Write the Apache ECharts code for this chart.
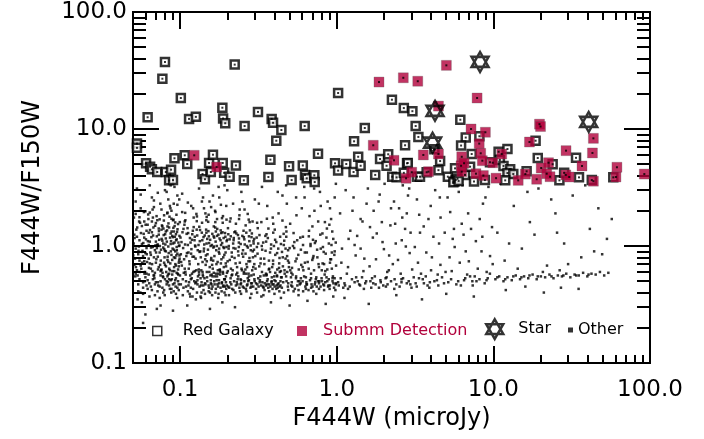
<!DOCTYPE html>
<html>
<head>
<meta charset="utf-8">
<script src="https://cdn.jsdelivr.net/npm/echarts@6/dist/echarts.min.js"></script>
<style>html,body{margin:0;padding:0;background:#fff}#c{width:704px;height:439px}</style>
</head>
<body>
<div id="c"></div>
<script>
// ---- axis ranges and ticks ----
const xRange = [0.05, 100];
const yRange = [0.1, 100];
const xMajor = [0.1, 1, 10, 100];
const xMajorLabels = ['0.1', '1.0', '10.0', '100.0'];
const yMajor = [0.1, 1, 10, 100];
const yMajorLabels = ['0.1', '1.0', '10.0', '100.0'];
const xMinor = [0.06,0.07,0.08,0.09,0.2,0.3,0.4,0.5,0.6,0.7,0.8,0.9,2,3,4,5,6,7,8,9,20,30,40,50,60,70,80,90];
const yMinor = [0.2,0.3,0.4,0.5,0.6,0.7,0.8,0.9,2,3,4,5,6,7,8,9,20,30,40,50,60,70,80,90];

// ---- series data [F444W, F444W/F150W] ----
const redGalaxy = [
[0.080,37.4],[0.077,26.9],[0.223,35.5],[0.101,18.4],[0.062,12.6],[0.114,12.2],[0.126,12.7],[0.186,15.2],[0.188,12.3],[0.194,11.2],
[0.258,10.6],[0.314,14.0],[0.384,12.2],[0.392,11.3],[0.443,9.8],[0.411,7.94],[0.624,10.6],[1.02,20.3],[1.51,10.2],[1.29,7.85],
[2.25,17.8],[2.68,15.1],[3.04,14.2],[3.19,10.6],[2.73,7.26],[3.32,8.55],
[0.053,7.5],[0.053,6.9],[0.0606,5.09],[0.0643,4.76],[0.066,4.53],[0.0714,4.29],[0.081,4.29],[0.0875,4.49],[0.085,3.64],[0.090,3.66],
[0.092,5.62],[0.107,5.96],[0.111,5.02],[0.139,4.12],[0.144,3.72],[0.153,5.12],[0.157,4.29],[0.162,6.03],[0.187,5.12],[0.191,4.22],
[0.207,3.91],[0.227,4.88],[0.255,3.64],[0.366,3.89],[0.377,5.47],[0.496,4.80],[0.515,3.66],[0.607,4.88],[0.627,4.05],[0.643,3.79],
[0.719,4.02],[0.723,3.52],[0.759,6.15],[0.975,5.09],[1.02,4.41],[1.15,5.02],[1.28,4.29],[1.37,5.79],[1.42,4.85],[1.76,4.05],
[1.89,5.54],[2.08,4.85],[2.13,6.08],[2.26,3.91],[2.41,3.86],[2.81,5.09],[3.25,3.91],
[6.15,12.0],[6.66,8.45],[8.14,8.67],[6.22,7.22],[2.84,5.12],[4.57,5.32],[4.46,4.45],[3.40,3.91],[3.75,4.27],[5.12,3.91],
[5.69,4.61],[5.75,3.66],[6.59,4.05],[7.27,6.11],[7.52,3.56],[7.10,4.76],[10.8,6.39],[12.3,6.74],[11.0,5.44],[11.6,4.83],
[12.8,4.53],[12.3,4.2],[13.4,4.12],[11.9,3.64],[16.3,4.35],[18.6,7.94],[19.2,5.65],[23.9,5.0],[26.4,3.64],[28.3,4.22],
[33.7,5.67],[35.2,3.86],[42.5,3.66],[58.3,3.86],[2.68,4.22],[5.64,3.56],[8.83,3.66],[9.51,5.2],[5.55,3.5],[5.9,3.75],
[6.0,3.6],[4.2,6.7]
];
const submm = [
[0.123,5.96],[0.171,4.73],[1.86,25.2],[2.66,27.4],[3.29,25.6],[1.71,7.26],[2.32,5.40],[3.01,4.27],[2.77,3.79],[5.01,35.0],
[7.87,18.4],[4.46,15.7],[7.20,10.0],[8.89,9.38],[8.12,7.5],[3.57,6.0],[4.46,6.11],[6.28,5.79],[6.22,4.85],[8.30,6.2],
[8.50,5.36],[11.3,6.11],[9.91,5.15],[3.85,4.32],[7.74,4.15],[8.63,4.0],[6.28,4.32],[10.4,3.80],[14.4,3.64],[16.0,4.12],
[18.9,3.72],[17.0,7.74],[19.7,11.0],[20.0,10.5],[20.2,4.64],[22.5,5.15],[21.9,4.15],[23.0,3.91],[29.1,6.53],[29.0,4.05],
[30.5,3.89],[36.8,4.83],[43.5,8.32],[42.9,6.24],[43.5,3.58],[61.5,4.71],[60.6,3.89],[92.0,4.12],[6.5,5.1]
];
const stars = [[8.22,37.4],[4.24,14.3],[4.09,7.64],[40.6,11.5]];
const other = [
[0.052,0.95],[0.055,1.12],[0.058,0.82],[0.061,1.35],[0.064,0.71],[0.067,0.98],[0.071,1.21],[0.074,0.88],[0.078,1.05],[0.083,0.76],
[0.087,1.28],[0.091,0.93],[0.095,1.14],[0.098,0.67],[0.053,0.62],[0.057,1.48],[0.06,0.54],[0.063,1.02],[0.066,1.62],[0.069,0.59],
[0.072,0.81],[0.076,1.38],[0.08,0.52],[0.084,0.99],[0.088,1.71],[0.092,0.48],[0.096,0.86],[0.054,0.47],[0.059,0.74],[0.065,0.45],
[0.07,1.09],[0.075,0.5],[0.079,1.83],[0.085,0.46],[0.09,1.19],[0.094,0.53],[0.099,1.01],[0.056,2.1],[0.062,0.43],[0.068,2.45],
[0.073,0.66],[0.077,0.44],[0.081,1.16],[0.086,2.2],[0.089,0.57],[0.093,0.79],[0.097,1.54],[0.051,1.25],[0.058,0.39],[0.064,1.93],
[0.069,0.92],[0.074,0.36],[0.08,0.69],[0.085,1.44],[0.091,0.41],[0.096,2.7],[0.053,3.1],[0.06,0.87],[0.066,1.31],[0.072,0.49],
[0.078,0.97],[0.083,0.55],[0.088,0.84],[0.094,1.26],[0.052,0.58],[0.057,0.33],[0.063,0.78],[0.07,1.57],[0.076,0.63],[0.082,2.9],
[0.087,0.51],[0.092,1.07],[0.098,0.47],[0.055,1.76],[0.061,0.96],[0.067,0.52],[0.073,1.41],[0.079,0.42],[0.084,0.73],[0.09,1.66],
[0.095,0.59],[0.054,0.85],[0.059,1.18],[0.065,0.64],[0.071,0.29],[0.077,1.11],[0.082,0.47],[0.087,3.3],[0.093,0.9],[0.097,0.5],
[0.056,0.68],[0.062,1.52],[0.068,0.8],[0.075,0.56],[0.081,1.33],[0.086,0.62],[0.091,2.3],[0.096,0.44],[0.052,1.88],[0.058,0.49],
[0.064,1.09],[0.069,0.38],[0.074,1.69],[0.08,0.91],[0.085,0.52],[0.089,1.22],[0.094,0.68],[0.099,0.83],[0.055,0.75],[0.061,0.46],
[0.066,2.6],[0.072,1.03],[0.078,0.54],[0.083,1.47],[0.088,0.43],[0.093,1.59],[0.098,0.72],[0.057,1.04],[0.063,0.57],[0.07,0.72],
[0.06,0.26],[0.075,0.31],[0.09,0.28],[0.058,0.22],
[0.102,1.08],[0.106,0.77],[0.11,1.27],[0.114,0.49],[0.118,0.94],[0.122,1.45],[0.127,0.62],[0.131,1.02],[0.136,0.46],[0.141,1.19],
[0.146,0.83],[0.151,1.61],[0.157,0.51],[0.163,0.97],[0.169,1.33],[0.175,0.58],[0.181,1.12],[0.188,0.45],[0.195,0.88],[0.202,1.42],
[0.21,0.53],[0.218,1.05],[0.226,0.71],[0.234,1.24],[0.243,0.47],[0.252,0.92],[0.262,1.5],[0.272,0.5],[0.282,1.01],[0.293,0.66],
[0.104,0.52],[0.108,1.66],[0.113,0.88],[0.117,0.44],[0.121,2.1],[0.125,0.99],[0.13,0.55],[0.134,1.37],[0.139,0.73],[0.144,0.48],
[0.149,1.15],[0.154,2.4],[0.16,0.69],[0.166,0.47],[0.172,1.22],[0.178,0.86],[0.185,1.73],[0.191,0.52],[0.198,1.1],[0.206,0.44],
[0.214,0.81],[0.222,1.31],[0.23,0.49],[0.239,1.83],[0.248,0.62],[0.257,1.14],[0.267,0.46],[0.277,0.79],[0.287,1.28],[0.298,0.52],
[0.103,2.8],[0.107,0.64],[0.112,1.02],[0.116,0.37],[0.12,0.81],[0.124,1.2],[0.129,0.47],[0.133,0.89],[0.138,1.58],[0.143,0.53],
[0.148,0.74],[0.153,1.06],[0.159,0.43],[0.164,1.47],[0.17,0.92],[0.177,0.48],[0.183,1.29],[0.19,0.66],[0.197,2.2],[0.204,0.95],
[0.212,0.47],[0.22,1.17],[0.228,0.57],[0.237,0.98],[0.246,2.9],[0.255,0.44],[0.265,0.7],[0.275,1.21],[0.285,0.45],[0.296,0.93],
[0.105,1.4],[0.109,0.45],[0.115,0.7],[0.119,1.13],[0.123,0.5],[0.128,1.79],[0.132,0.6],[0.137,0.4],[0.142,0.95],[0.147,1.3],
[0.152,0.46],[0.158,0.79],[0.165,1.18],[0.171,0.51],[0.176,3.2],[0.182,0.71],[0.189,0.98],[0.196,0.49],[0.203,1.26],[0.211,0.64],
[0.219,0.42],[0.227,1.55],[0.236,0.83],[0.245,0.51],[0.254,1.35],[0.264,0.58],[0.274,1.68],[0.284,0.48],[0.294,1.1],[0.101,0.85],
[0.111,0.31],[0.126,0.35],[0.14,2.6],[0.155,0.29],[0.168,1.95],[0.186,0.33],[0.2,3.0],[0.224,0.3],[0.25,2.4],[0.28,0.36],
[0.135,0.53],[0.161,0.55],[0.193,0.45],[0.232,0.47],[0.27,0.53],[0.29,1.62],[0.241,0.41],[0.208,1.62],[0.174,0.62],[0.145,1.9],
[0.305,0.48],[0.315,1.05],[0.326,0.71],[0.338,0.45],[0.35,1.22],[0.362,0.52],[0.375,0.88],[0.388,0.47],[0.402,1.38],[0.416,0.55],
[0.431,0.79],[0.446,0.44],[0.462,1.11],[0.478,0.5],[0.495,0.66],[0.512,0.46],[0.53,1.29],[0.549,0.53],[0.568,0.84],[0.588,0.48],
[0.609,1.02],[0.63,0.45],[0.652,0.73],[0.675,0.51],[0.699,1.47],[0.724,0.47],[0.749,0.93],[0.775,0.5],[0.802,0.62],[0.83,0.46],
[0.859,1.18],[0.889,0.52],[0.92,0.77],[0.952,0.48],[0.985,1.07],[0.31,1.58],[0.322,0.49],[0.334,0.93],[0.346,0.42],[0.358,1.71],
[0.371,0.64],[0.384,0.5],[0.397,1.0],[0.411,0.43],[0.425,1.9],[0.44,0.61],[0.455,0.49],[0.471,0.95],[0.487,0.45],[0.504,1.55],
[0.522,0.57],[0.54,0.43],[0.559,1.12],[0.578,0.5],[0.598,2.1],[0.619,0.55],[0.641,0.47],[0.663,1.21],[0.686,0.44],[0.71,0.82],
[0.735,0.52],[0.761,1.62],[0.788,0.45],[0.816,0.98],[0.844,0.49],[0.874,2.4],[0.904,0.46],[0.936,1.33],[0.969,0.53],[0.318,2.3],
[0.342,0.56],[0.366,1.41],[0.392,0.75],[0.42,0.47],[0.45,2.7],[0.482,0.82],[0.516,0.49],[0.553,1.83],[0.593,0.69],[0.635,0.43],
[0.68,1.04],[0.729,0.49],[0.781,2.9],[0.837,0.57],[0.897,1.52],[0.961,0.44],[0.33,0.37],[0.38,0.33],[0.44,0.36],[0.5,0.31],
[0.57,0.38],[0.65,0.34],[0.74,0.39],[0.85,0.32],[0.95,0.37],[0.312,0.86],[0.354,1.09],[0.405,0.59],[0.458,1.27],[0.535,0.96],
[0.612,0.62],[0.705,1.13],[0.812,0.71],[0.93,0.88],[0.333,3.2],[0.475,3.3],[0.623,2.6],[0.717,3.1],[0.905,2.1],[0.987,3.4],
[0.36,0.47],[0.4,0.51],[0.437,0.46],[0.49,0.48],[0.56,0.46],[0.605,0.5],[0.69,0.47],[0.77,0.48],[0.87,0.5],[0.99,0.48],
[1.02,0.49],[1.07,0.72],[1.13,0.46],[1.19,1.15],[1.25,0.52],[1.32,0.83],[1.39,0.47],[1.46,1.62],[1.54,0.5],[1.62,0.67],
[1.71,0.48],[1.8,1.28],[1.9,0.51],[2.0,0.94],[2.11,0.47],[2.22,2.1],[2.34,0.52],[2.46,0.76],[2.59,0.49],[2.73,1.4],
[2.88,0.5],[3.03,0.63],[3.19,0.48],[3.36,1.85],[3.54,0.52],[3.73,0.88],[3.93,0.49],[4.14,1.2],[4.36,0.51],[4.59,0.69],
[4.84,0.48],[5.1,2.6],[5.37,0.52],[5.66,0.98],[5.96,0.5],[6.28,1.55],[6.61,0.53],[6.97,0.74],[7.34,0.5],[7.73,1.1],
[8.15,0.52],[8.58,2.3],[9.04,0.51],[9.52,0.82],[1.05,1.9],[1.16,0.58],[1.28,2.6],[1.42,0.95],[1.58,3.1],[1.75,0.55],
[1.94,1.6],[2.15,0.62],[2.38,1.05],[2.64,3.3],[2.92,0.87],[3.24,0.45],[3.59,1.47],[3.98,2.2],[4.41,0.57],[4.89,1.3],
[5.42,0.61],[6.01,2.9],[6.66,0.9],[7.38,0.46],[8.18,1.7],[9.06,0.6],[1.1,0.44],[1.36,0.5],[1.66,0.44],[2.05,0.53],
[2.52,0.45],[3.1,0.54],[3.8,0.46],[4.7,0.54],[5.8,0.47],[7.1,0.55],[8.8,0.48],[1.22,1.35],[1.5,0.78],[1.85,2.4],
[2.28,0.7],[2.8,1.9],[3.45,0.58],[4.25,3.0],[5.25,0.8],[6.45,1.25],[7.95,0.64],[9.8,1.45],[1.12,0.36],[1.6,0.32],
[2.4,0.38],[3.5,0.35],[5.0,0.39],[7.5,0.37],[1.3,1.02],[1.7,1.18],[2.1,0.6],[2.6,1.12],[3.3,0.72],[4.0,0.62],
[4.6,1.75],[5.5,1.15],[6.8,0.57],[8.4,0.9],[9.3,3.2],[1.45,0.54],[1.98,0.46],[2.95,0.47],[4.45,0.46],[6.2,0.46],
[10.3,0.52],[10.9,0.55],[11.6,0.5],[12.3,0.54],[13.1,0.51],[13.9,0.56],[14.8,0.52],[15.7,0.55],[16.7,0.53],[17.8,0.57],
[18.9,0.52],[20.1,0.55],[21.4,0.54],[22.8,0.57],[24.2,0.53],[25.8,0.56],[27.4,0.55],[29.2,0.58],[31.0,0.54],[33.0,0.57],
[35.1,0.56],[37.4,0.59],[39.8,0.55],[42.3,0.58],[45.0,0.57],[47.9,0.6],[51.0,0.56],[54.2,0.59],[10.6,1.3],[11.8,0.75],
[13.5,2.2],[15.2,0.95],[17.1,1.6],[19.4,3.1],[22.0,0.68],[24.9,1.9],[28.3,1.05],[32.1,2.7],[36.4,0.8],[41.3,1.4],
[46.8,2.1],[53.1,1.15],[12.0,0.42],[16.0,0.45],[21.0,0.4],[27.0,0.44],[35.0,0.43],[11.1,3.4],[14.3,0.64],[18.3,1.25],
[23.4,2.5],[30.0,0.7],[38.6,3.3],[49.5,0.85],[57.0,1.7],[26.5,0.62],[20.7,0.6],
[0.0505,1.05],[0.0515,0.78],[0.0525,1.38],[0.0535,0.56],[0.0545,0.99],[0.0555,1.58],[0.0565,0.64],[0.0575,0.91],[0.0585,1.27],[0.0595,0.5],
[0.0605,1.14],[0.0615,0.73],[0.0625,1.86],[0.0635,0.48],[0.0645,0.88],[0.0655,1.19],[0.0665,0.61],[0.0675,1.44],[0.0685,0.53],[0.0695,1.01],
[0.0705,0.77],[0.0715,1.66],[0.0725,0.46],[0.0735,1.13],[0.0745,0.69],[0.0755,0.93],[0.0765,1.5],[0.0775,0.55],[0.0785,1.24],[0.0795,0.8],
[0.0805,1.03],[0.0815,0.6],[0.0825,1.36],[0.0835,0.49],[0.0845,0.87],[0.0855,1.78],[0.0865,0.71],[0.0875,1.1],[0.0885,0.52],[0.0895,0.95],
[0.0905,1.43],[0.0915,0.66],[0.0925,1.2],[0.0935,0.45],[0.0945,0.83],[0.0955,1.32],[0.0965,0.58],[0.0975,1.07],[0.0985,0.75],[0.0995,1.6],
[0.051,0.69],[0.053,1.2],[0.055,0.52],[0.057,0.89],[0.059,1.62],[0.061,0.58],[0.063,1.3],[0.065,0.84],[0.067,1.75],[0.069,0.47],
[0.071,0.96],[0.073,1.25],[0.075,0.61],[0.077,1.47],[0.079,0.72],[0.081,0.9],[0.083,1.93],[0.085,0.58],[0.087,1.04],[0.089,0.76],
[0.091,1.33],[0.093,0.51],[0.095,0.98],[0.097,0.63],[0.099,1.22],[0.052,2.4],[0.056,2.75],[0.06,1.98],[0.064,3.3],[0.068,2.15],
[0.072,2.85],[0.076,2.05],[0.08,3.0],[0.084,2.5],[0.088,2.0],[0.092,3.2],[0.096,2.25],[0.054,0.41],[0.058,0.44],[0.062,0.51],
[0.066,0.42],[0.07,0.49],[0.074,0.45],[0.078,0.4],[0.082,0.5],[0.086,0.43],[0.09,0.47],[0.094,0.39],[0.098,0.42],[0.0535,0.35],
[0.1005,1.18],[0.1025,0.68],[0.1045,0.96],[0.1065,1.52],[0.1085,0.57],[0.1105,0.87],[0.1125,1.29],[0.1145,0.74],[0.1165,1.07],[0.1185,0.53],
[0.1205,1.35],[0.1225,0.81],[0.1245,1.01],[0.1265,0.49],[0.1285,1.23],[0.1305,0.7],[0.1325,1.46],[0.1345,0.9],[0.1365,0.62],[0.1385,1.12],
[0.1405,0.46],[0.1425,1.03],[0.1445,0.77],[0.1465,1.38],[0.1485,0.54],[0.1505,0.93],[0.1525,1.21],[0.1545,0.66],[0.1565,1.0],[0.1585,0.47],
[0.1605,1.27],[0.1625,0.75],[0.1645,0.99],[0.1665,0.55],[0.1685,1.09],[0.1705,0.7],[0.1725,1.4],[0.1745,0.45],[0.1765,0.89],[0.1785,1.16],
[0.1805,0.6],[0.1825,1.02],[0.1845,0.48],[0.1865,1.31],[0.1885,0.8],[0.1905,0.96],[0.1925,0.52],[0.1945,1.2],[0.1965,0.67],[0.1985,0.46],
[0.101,0.47],[0.105,0.44],[0.109,0.5],[0.113,0.46],[0.117,0.52],[0.121,0.43],[0.125,0.48],[0.129,0.51],[0.133,0.45],[0.137,0.49],
[0.141,0.42],[0.145,0.47],[0.149,0.5],[0.153,0.44],[0.157,0.48],[0.161,0.45],[0.165,0.5],[0.169,0.43],[0.173,0.47],[0.177,0.51],
[0.181,0.44],[0.185,0.49],[0.189,0.46],[0.193,0.52],[0.197,0.43],[0.103,1.95],[0.112,2.35],[0.122,1.75],[0.132,3.1],[0.142,2.1],
[0.152,1.85],[0.162,2.7],[0.172,1.7],[0.182,2.25],[0.192,3.3],[0.107,1.62],[0.127,1.88],[0.147,1.66],[0.167,2.0],[0.187,1.58],
[0.115,0.39],[0.135,0.37],[0.155,0.4],[0.175,0.36],[0.195,0.38],[0.119,0.58],[0.139,0.6],[0.159,0.57],[0.179,0.63],[0.199,0.59],
[0.201,0.74],[0.207,1.14],[0.213,0.56],[0.219,0.96],[0.225,1.33],[0.231,0.66],[0.237,1.07],[0.243,0.52],[0.249,0.86],[0.255,1.19],
[0.261,0.63],[0.267,1.0],[0.273,0.74],[0.279,1.36],[0.285,0.56],[0.291,0.9],[0.297,1.15],[0.303,0.64],[0.309,0.98],[0.315,0.53],
[0.321,1.24],[0.327,0.78],[0.333,0.6],[0.339,1.07],[0.345,0.7],[0.351,0.91],[0.357,0.57],[0.363,1.17],[0.369,0.75],[0.375,0.6],
[0.381,1.03],[0.387,0.66],[0.393,1.3],[0.399,0.55],[0.405,0.84],[0.411,1.08],[0.417,0.63],[0.423,0.95],[0.429,0.71],[0.435,1.2],
[0.441,0.54],[0.447,0.89],[0.453,0.67],[0.459,1.02],[0.465,0.58],[0.471,0.78],[0.477,1.33],[0.483,0.6],[0.489,0.92],[0.495,0.72],
[0.203,0.45],[0.209,0.49],[0.215,0.43],[0.221,0.5],[0.227,0.46],[0.233,0.52],[0.239,0.44],[0.245,0.48],[0.251,0.45],[0.257,0.5],
[0.263,0.43],[0.269,0.47],[0.275,0.51],[0.281,0.44],[0.287,0.48],[0.293,0.45],[0.299,0.5],[0.305,0.43],[0.311,0.47],[0.317,0.45],
[0.323,0.51],[0.329,0.46],[0.335,0.49],[0.341,0.44],[0.347,0.48],[0.353,0.46],[0.359,0.5],[0.365,0.44],[0.371,0.47],[0.377,0.45],
[0.383,0.49],[0.389,0.43],[0.395,0.47],[0.401,0.45],[0.407,0.5],[0.413,0.46],[0.419,0.44],[0.425,0.48],[0.431,0.45],[0.437,0.5],
[0.21,1.72],[0.24,2.05],[0.27,1.88],[0.3,2.5],[0.33,1.6],[0.36,2.2],[0.39,1.75],[0.42,2.9],[0.45,1.65],[0.48,2.3],
[0.505,0.62],[0.525,1.0],[0.545,0.74],[0.565,0.5],[0.585,1.18],[0.605,0.66],[0.625,0.88],[0.645,0.47],[0.665,1.35],[0.685,0.58],
[0.705,0.79],[0.725,1.06],[0.745,0.45],[0.765,0.7],[0.785,1.25],[0.805,0.5],[0.825,0.89],[0.845,0.61],[0.865,1.41],[0.885,0.46],
[0.905,0.72],[0.925,1.02],[0.945,0.55],[0.965,0.84],[0.985,0.47],[0.52,0.45],[0.58,0.47],[0.64,0.49],[0.7,0.45],[0.76,0.5],
[0.82,0.47],[0.88,0.45],[0.94,0.5],[1.03,0.46],[1.12,0.48],[1.21,0.45],[1.3,0.49],[1.41,0.46],[1.52,0.48],[1.64,0.5],
[1.77,0.47],[1.91,0.49],[2.06,0.45],[2.22,0.5],[2.4,0.47],[2.59,0.52],[2.8,0.48],[1.08,0.95],[1.18,0.66],[1.35,1.22],
[1.48,0.61],[1.63,1.45],[1.78,0.77],[1.96,1.08],[2.16,0.83],[2.36,1.55],[2.56,0.58],[2.76,0.99],[2.96,1.3],[1.26,2.0],
[1.55,2.3],[1.88,2.75],[2.2,1.5],[2.5,2.1],[2.85,2.7],[0.55,2.6],[0.67,1.8],[0.79,2.2],[0.92,1.7],[0.62,3.2],
[0.72,2.0],[0.84,1.6],[0.97,2.6],[1.14,3.0],[1.42,1.7],[1.72,2.0],[2.02,3.4],[2.32,2.4],[2.62,1.75],[2.9,3.1],
[3.15,0.98],[3.4,1.3],[3.7,0.55],[4.05,0.8],[4.5,1.05],[4.95,0.6],[5.6,1.4],[6.1,0.72],[6.9,1.9],[7.6,0.55],
[8.5,1.2],[9.5,0.58],[3.25,2.5],[3.85,1.7],[4.55,2.6],[5.3,1.95],[6.35,3.3],[7.2,1.4],[8.9,2.6],[9.9,0.7],
[3.6,0.48],[4.2,0.5],[5.15,0.49],[6.5,0.51],[7.8,0.5],[9.2,0.53],[10.6,0.54],[11.9,0.52],[13.4,0.55],[15.1,0.54],
[17.0,0.56],[19.2,0.55],[23.5,0.55],[28.0,0.56],[33.8,0.56],[40.5,0.57],[12.6,1.05],[16.5,2.9],[25.5,1.3],[44.0,0.9],
[0.0502,0.83],[0.0512,1.17],[0.0522,0.66],[0.0532,1.44],[0.0542,0.91],[0.0552,0.6],[0.0562,1.29],[0.0572,0.72],[0.0582,1.06],[0.0592,0.58],
[0.0602,1.52],[0.0612,0.85],[0.0622,1.1],[0.0632,0.65],[0.0642,1.37],[0.0652,0.97],[0.0662,0.7],[0.0672,1.23],[0.0682,0.56],[0.0692,1.49],
[0.0702,0.88],[0.0712,1.02],[0.0722,0.63],[0.0732,1.34],[0.0742,1.0],[0.0752,0.75],[0.0762,1.15],[0.0772,0.59],[0.0782,1.41],[0.0792,0.94],
[0.0802,1.26],[0.0812,0.67],[0.0822,1.09],[0.0832,0.81],[0.0842,1.56],[0.0852,0.64],[0.0862,1.18],[0.0872,0.9],[0.0882,1.33],[0.0892,0.61],
[0.0902,1.05],[0.0912,0.8],[0.0922,1.48],[0.0932,0.7],[0.0942,1.12],[0.0952,0.92],[0.0962,1.39],[0.0972,0.57],[0.0982,1.0],[0.0992,0.78],
[0.1015,0.73],[0.1035,1.31],[0.1055,0.59],[0.1075,1.03],[0.1095,0.82],[0.1115,1.42],[0.1135,0.64],[0.1155,1.17],[0.1175,0.86],[0.1195,1.26],
[0.1215,0.6],[0.1235,1.12],[0.1255,0.78],[0.1275,1.38],[0.1295,0.92],[0.1315,0.63],[0.1335,1.1],[0.1355,0.8],[0.1375,1.3],[0.1395,0.57],
[0.1415,0.9],[0.1435,1.23],[0.1455,0.69],[0.1475,1.05],[0.1495,0.85],[0.1515,1.34],[0.1535,0.6],[0.1555,1.13],[0.1575,0.76],[0.1595,1.02],
[0.1615,0.64],[0.1635,1.21],[0.1655,0.82],[0.1675,1.44],[0.1695,0.58],[0.1715,1.0],[0.1735,0.73],[0.1755,1.25],[0.1775,0.95],[0.1795,0.62],
[0.1815,1.36],[0.1835,0.77],[0.1855,1.06],[0.1875,0.6],[0.1895,1.17],[0.1915,0.84],[0.1935,1.29],[0.1955,0.71],[0.1975,0.98],[0.1995,1.13],
[0.2015,0.61],[0.2045,1.0],[0.2075,0.76],[0.2105,1.21],[0.2135,0.88],[0.2165,0.62],[0.2195,1.12],[0.2225,0.79],[0.2255,0.95],[0.2285,1.28],
[0.2315,0.59],[0.2345,0.9],[0.2375,1.16],[0.2405,0.72],[0.2435,1.04],[0.2465,0.64],[0.2495,1.22],[0.2525,0.81],[0.2555,0.6],[0.2585,1.03],
[0.2615,0.86],[0.2645,1.3],[0.2675,0.66],[0.2705,0.97],[0.2735,0.58],[0.2765,1.1],[0.2795,0.74],[0.2825,0.92],[0.2855,1.19],[0.2885,0.62],
[0.2915,0.8],[0.2945,1.05],[0.2975,0.7],[0.0507,1.75],[0.0547,1.62],[0.0587,1.95],[0.0627,1.7],[0.0667,2.05],[0.0707,1.8],[0.0747,2.3],
[0.0787,1.65],[0.0827,1.9],[0.0867,2.1],[0.0907,1.68],[0.0947,1.85],[0.0987,2.5],[0.1077,1.92],[0.1177,2.2],[0.1277,1.63],[0.1377,2.4],
[0.1477,1.77],[0.1577,2.15],[0.1677,1.6],[0.1777,2.6],[0.1877,1.8],[0.1977,1.68],[0.2177,2.3],[0.2377,1.7],[0.2577,2.05],[0.2777,1.6],
[0.0517,0.55],[0.0557,0.4],[0.0597,0.6],[0.0637,0.37],[0.0677,0.56],[0.0717,0.41],[0.0757,0.62],[0.0797,0.38],[0.0837,0.57],[0.0877,0.4],
[0.0917,0.61],[0.0957,0.36],[0.0997,0.56],[0.104,0.38],[0.108,0.6],[0.112,0.41],[0.116,0.56],[0.12,0.37],[0.124,0.61],[0.128,0.4],
[0.132,0.57],[0.136,0.36],[0.14,0.55],[0.144,0.39],[0.148,0.6],[0.152,0.41],[0.156,0.56],[0.16,0.38],[0.164,0.59],[0.168,0.4],
[0.172,0.55],[0.176,0.39],[0.18,0.57],[0.184,0.41],[0.188,0.58],[0.192,0.4],[0.196,0.55],[0.205,0.38],[0.215,0.57],[0.225,0.4],
[0.235,0.55],[0.245,0.39],[0.255,0.58],[0.265,0.41],[0.275,0.55],[0.285,0.39],[0.295,0.57],[0.31,0.4],[0.325,0.55],[0.34,0.38],
[0.355,0.56],[0.37,0.41],[0.385,0.54],[0.4,0.39],[0.415,0.56],[0.43,0.41],[0.445,0.54],[0.46,0.4],[0.475,0.55],[0.49,0.42],
[0.51,0.54],[0.53,0.41],[0.55,0.55],[0.57,0.42],[0.59,0.53],[0.61,0.41],[0.635,0.54],[0.66,0.42],[0.685,0.53],[0.71,0.41],
[0.74,0.54],[0.77,0.43],[0.8,0.53],[0.83,0.42],[0.86,0.54],[0.9,0.43],[0.94,0.53],[0.98,0.42],[1.06,0.53],[1.18,0.43],
[1.33,0.54],[1.49,0.43],[1.68,0.53],[1.86,0.44],[2.08,0.54],[2.33,0.43],[2.65,0.53],[3.0,0.44],[3.35,0.53],[3.9,0.44],
[0.302,0.82],[0.308,1.18],[0.32,0.67],[0.332,1.0],[0.344,0.78],[0.356,1.26],[0.368,0.63],[0.38,0.95],[0.392,0.7],[0.404,1.13],
[0.416,0.87],[0.428,0.65],[0.44,1.04],[0.452,0.8],[0.464,0.62],[0.476,1.2],[0.488,0.75],[0.5,0.96],[0.518,0.65],[0.536,1.08],
[0.554,0.78],[0.572,0.63],[0.59,0.93],[0.608,1.2],[0.626,0.72],[0.644,0.88],[0.662,0.64],[0.68,1.0],[0.698,0.76],[0.716,0.62],
[0.734,1.1],[0.752,0.8],[0.77,0.66],[0.79,0.95],[0.81,1.28],[0.83,0.7],[0.85,0.86],[0.87,0.63],[0.89,1.05],[0.91,0.77],
[0.93,0.64],[0.95,1.15],[0.97,0.9],[0.99,0.68],[0.313,1.42],[0.353,0.58],[0.393,1.55],[0.433,0.6],[0.473,1.45],[0.513,0.59]
];

// ---- styling ----
const FONT = 'DejaVu Sans';
const RED = '#b1003b';
const STAR_PATH = 'path://M0,-10L8.66,5L-8.66,5Z M0,10L8.66,-5L-8.66,-5Z';

function lookup(v, vals, labels) {
  for (let i = 0; i < vals.length; i++) {
    if (Math.abs(Math.log10(v) - Math.log10(vals[i])) < 1e-6) return labels[i];
  }
  return '';
}

function mkAxis(dim, pos, range, ticks, len, main) {
  const isX = dim === 'x';
  const majors = isX ? xMajor : yMajor;
  const labels = isX ? xMajorLabels : yMajorLabels;
  return {
    type: 'log', logBase: 10, min: range[0], max: range[1], position: pos, gridIndex: 0,
    axisLine: { show: true, onZero: false, lineStyle: { color: '#000', width: 2 } },
    axisTick: { show: true, inside: true, length: len, customValues: ticks, lineStyle: { color: '#000', width: 2 } },
    axisLabel: main ? {
      show: true, customValues: majors, color: '#000', fontFamily: FONT, fontSize: 23,
      margin: isX ? 16 : 6, formatter: v => lookup(v, majors, labels)
    } : { show: false },
    splitLine: { show: false },
    minorTick: { show: false },
    name: main ? (isX ? 'F444W (microJy)' : 'F444W/F150W') : '',
    nameLocation: 'middle',
    nameGap: isX ? 41 : 88,
    nameTextStyle: { color: '#000', fontFamily: FONT, fontSize: 24 }
  };
}

const chart = echarts.init(document.getElementById('c'), null, { renderer: 'canvas' });
chart.setOption({
  animation: false,
  backgroundColor: '#fff',
  grid: { left: 133, right: 54, top: 12, bottom: 76, containLabel: false },
  xAxis: [
    mkAxis('x', 'bottom', xRange, xMajor, 17, true),
    mkAxis('x', 'bottom', xRange, xMinor, 8, false),
    mkAxis('x', 'top', xRange, xMajor, 17, false),
    mkAxis('x', 'top', xRange, xMinor, 8, false)
  ],
  yAxis: [
    mkAxis('y', 'left', yRange, yMajor, 26, true),
    mkAxis('y', 'left', yRange, yMinor, 13, false),
    mkAxis('y', 'right', yRange, yMajor, 26, false),
    mkAxis('y', 'right', yRange, yMinor, 13, false)
  ],
  legend: [
    { data: [{ name: 'Red Galaxy', icon: 'rect' }], selectedMode: false, left: 152, top: 323, padding: 0,
      itemWidth: 9, itemHeight: 9, itemStyle: { color: '#fff', borderColor: '#000', borderWidth: 1.5 },
      textStyle: { color: '#000', fontFamily: FONT, fontSize: 16, padding: [0, 0, 0, 16] } },
    { data: [{ name: 'Submm Detection', icon: 'rect' }], selectedMode: false, left: 297, top: 323, padding: 0,
      itemWidth: 10, itemHeight: 10, itemStyle: { color: RED, borderWidth: 0 },
      textStyle: { color: RED, fontFamily: FONT, fontSize: 16, padding: [0, 0, 0, 11] } },
    { data: [{ name: 'Star', icon: STAR_PATH }], selectedMode: false, left: 485, top: 318, padding: 0,
      itemWidth: 17, itemHeight: 20, itemStyle: { color: 'rgba(0,0,0,0)', borderColor: '#000', borderWidth: 2.5 },
      textStyle: { color: '#000', fontFamily: FONT, fontSize: 16, padding: [0, 0, 0, 10] } },
    { data: [{ name: 'Other', icon: 'rect' }], selectedMode: false, left: 568, top: 322, padding: 0,
      itemWidth: 5, itemHeight: 5, itemStyle: { color: '#000', borderWidth: 0 },
      textStyle: { color: '#000', fontFamily: FONT, fontSize: 16 } }
  ],
  series: [
    { name: 'Other', type: 'scatter', data: other, symbol: 'rect', symbolSize: 2.5,
      itemStyle: { color: '#000' }, silent: true, z: 1 },
    { name: 'Red Galaxy', type: 'scatter', data: redGalaxy, symbol: 'rect', symbolSize: 8,
      itemStyle: { color: '#fff', borderColor: '#000', borderWidth: 2.5 }, silent: true, z: 3 },
    { name: 'Submm Detection', type: 'scatter', data: submm, symbol: 'rect', symbolSize: 10,
      itemStyle: { color: RED, borderColor: 'rgba(90,90,90,0.6)', borderWidth: 0.6 }, silent: true, z: 4 },
    { name: 'Star', type: 'scatter', data: stars, symbol: STAR_PATH, symbolSize: [17, 20],
      itemStyle: { color: 'rgba(0,0,0,0)', borderColor: '#000', borderWidth: 2.5 }, silent: true, z: 5 },
    { name: 'centers', type: 'scatter', data: redGalaxy.concat(submm), symbol: 'rect', symbolSize: 2,
      itemStyle: { color: '#000' }, silent: true, z: 6 }
  ]
});
</script>
</body>
</html>
